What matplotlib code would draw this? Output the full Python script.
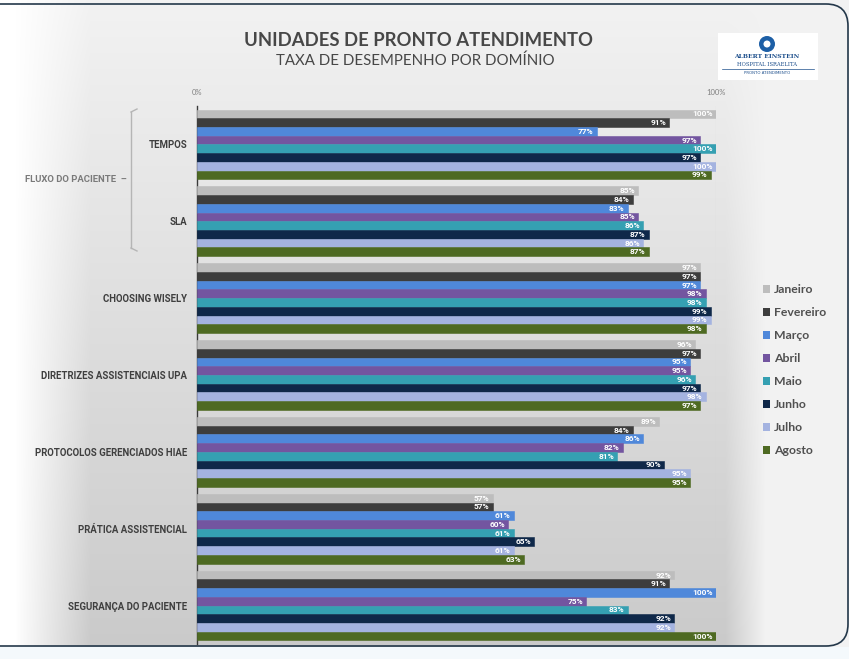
import numpy as np
import matplotlib
matplotlib.use("Agg")
import matplotlib.pyplot as plt
from matplotlib.patches import Patch, Rectangle, FancyBboxPatch, Circle
from matplotlib.lines import Line2D

# ---------------- data ----------------
categories = ["TEMPOS", "SLA", "CHOOSING WISELY", "DIRETRIZES ASSISTENCIAIS UPA",
              "PROTOCOLOS GERENCIADOS HIAE", "PRÁTICA ASSISTENCIAL", "SEGURANÇA DO PACIENTE"]
months = ["Janeiro", "Fevereiro", "Março", "Abril", "Maio", "Junho", "Julho", "Agosto"]
janeiro   = [100, 85, 97, 96, 89, 57, 92]
fevereiro = [91, 84, 97, 97, 84, 57, 91]
marco     = [77, 83, 97, 95, 86, 61, 100]
abril     = [97, 85, 98, 95, 82, 60, 75]
maio      = [100, 86, 98, 96, 81, 61, 83]
junho     = [97, 87, 99, 97, 90, 65, 92]
julho     = [100, 86, 99, 98, 95, 61, 92]
agosto    = [99, 87, 98, 97, 95, 63, 100]
series = [janeiro, fevereiro, marco, abril, maio, junho, julho, agosto]
colors = ["#BDBDBD", "#3D3D3D", "#4F88DA", "#7355A0", "#35A0B2", "#0F2849", "#A4B3E0", "#4E6A22"]
xtick_vals = [0, 100]
xtick_labels = ["0%", "100%"]

W, H = 851, 659
fig = plt.figure(figsize=(W / 100, H / 100), dpi=100)
fig.patch.set_facecolor("white")

def fx(px):
    return px / W

def fy(py):
    return 1 - py / H

# ---------------- background ----------------
bg = fig.add_axes([0, 0, 1, 1], zorder=-10)
yy, xx = np.mgrid[0:H, 0:W]
base = 0.95 - 0.16 * (yy / H)
wl = np.clip((xx - 15) / 75.0, 0, 1)
val = 1.0 * (1 - wl) + base * wl
wr = np.clip((xx - 725) / 40.0, 0, 1)
val = val * (1 - wr) + 0.95 * wr
img = np.dstack([val, val, val])
img[yy > 646] = [0.96, 0.98, 0.99]
img[xx > 848] = [1, 1, 1]
bg.imshow(img, extent=[0, W, H, 0], aspect="auto")
bg.set_xlim(0, W)
bg.set_ylim(H, 0)
bg.axis("off")

# border
border = FancyBboxPatch((-40, 4), 888, 642, boxstyle="round,pad=0,rounding_size=22",
                        fill=False, edgecolor="#24384A", linewidth=1.2)
bg.add_patch(border)

# bracket for FLUXO DO PACIENTE
bc = "#B5B5B5"
bg.add_line(Line2D([131, 131], [112, 248], color=bc, lw=1))
bg.add_line(Line2D([131, 137], [112, 109], color=bc, lw=1))
bg.add_line(Line2D([131, 137], [248, 251], color=bc, lw=1))
bg.text(25, 180, "FLUXO DO PACIENTE  –", fontsize=6.8, fontweight="bold", color="#7A7A7A",
        ha="left", va="center", family="Roboto")

# logo
bg.add_patch(Rectangle((718, 33), 100, 47, facecolor="white", edgecolor="none"))
bg.add_patch(Circle((767, 44), 8, facecolor="#1D5FA6", edgecolor="none"))
bg.add_patch(Circle((767, 44), 3.5, facecolor="white", edgecolor="none"))
bg.text(767, 57, "ALBERT EINSTEIN", fontsize=4.3, fontweight="bold", color="#1D4F8C",
        ha="center", va="center", family="DejaVu Serif")
bg.text(767, 65, "HOSPITAL ISRAELITA", fontsize=3.8, color="#1D4F8C",
        ha="center", va="center", family="DejaVu Serif")
bg.add_line(Line2D([722, 814], [69, 69], color="#1D4F8C", lw=0.5))
bg.text(767, 73, "PRONTO ATENDIMENTO", fontsize=2.8, color="#1D4F8C",
        ha="center", va="center")

# titles
fig.text(fx(419), fy(40), "UNIDADES DE PRONTO ATENDIMENTO", fontsize=13.3, fontweight="bold",
         color="#474747", ha="center", va="center", family="Lato")
fig.text(fx(415), fy(61), "TAXA DE DESEMPENHO POR DOMÍNIO", fontsize=10.8, color="#474747",
         ha="center", va="center", family="Lato")

# ---------------- main axes ----------------
top_px, bot_px = 106, 644
ax = fig.add_axes([fx(197), fy(bot_px), fx(716) - fx(197), (bot_px - top_px) / H])
ax.set_facecolor("none")
n = len(months)
h = 0.1136
ypos = np.arange(len(categories))
for j, (vals, c, m) in enumerate(zip(series, colors, months)):
    y = ypos + (j - (n - 1) / 2) * h
    ax.barh(y, vals, height=h, color=c, edgecolor=c, linewidth=0.4, label=m, zorder=3)
    for yi, v in zip(y, vals):
        ax.text(v - 0.6, yi, f"{v}%", ha="right", va="center", fontsize=6.0,
                fontweight="bold", color="white", zorder=4, family="Roboto")

ax.set_xlim(0, 100)
ax.set_ylim(6.5, -0.5)
ax.axvline(100, color="#D0D0D0", lw=0.8, zorder=1)
ax.set_yticks(ypos)
ax.set_yticklabels(categories, fontsize=6.9, fontweight="bold", color="#3F3F3F", family="Roboto")
ax.tick_params(axis="y", length=0, pad=7)
ax.xaxis.tick_top()
ax.set_xticks(xtick_vals)
ax.set_xticklabels(xtick_labels, fontsize=5.5, color="#808080", family="Lato")
ax.tick_params(axis="x", length=0, pad=7)
for s in ["top", "right", "bottom"]:
    ax.spines[s].set_visible(False)
ax.spines["left"].set_color("#3A3A3A")
ax.spines["left"].set_linewidth(1.0)

handles = [Patch(facecolor=c, edgecolor="none") for c in colors]
leg = fig.legend(handles, months, loc="upper left", bbox_to_anchor=(fx(757), fy(278)),
                 frameon=False, handlelength=0.6, handleheight=0.6,
                 handletextpad=0.3, labelspacing=0.98, borderpad=0,
                 prop={"family": "Lato", "weight": "bold", "size": 8.8})
for t in leg.get_texts():
    t.set_color("#505050")

fig.savefig("out.png", dpi=100)
